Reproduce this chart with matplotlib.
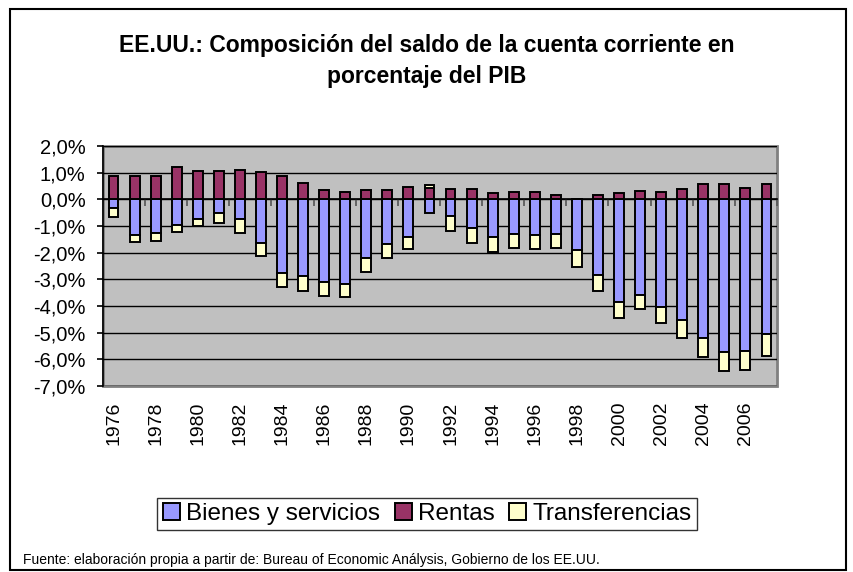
import numpy as np
import matplotlib
matplotlib.use('Agg')
import matplotlib.pyplot as plt
from matplotlib.patches import Patch, Rectangle
from matplotlib.ticker import FuncFormatter

plt.rcParams['font.family'] = ['Liberation Sans', 'DejaVu Sans']

years = list(range(1976, 2008))
bienes = [-0.34, -1.34, -1.28, -0.96, -0.73, -0.53, -0.75, -1.65, -2.75, -2.88,
          -3.09, -3.19, -2.21, -1.68, -1.40, -0.53, -0.63, -1.08, -1.40, -1.30,
          -1.34, -1.30, -1.90, -2.84, -3.85, -3.59, -4.03, -4.53, -5.19, -5.71,
          -5.68, -5.06]
rentas = [0.88, 0.88, 0.88, 1.20, 1.06, 1.06, 1.09, 1.01, 0.88, 0.63,
          0.34, 0.29, 0.36, 0.36, 0.48, 0.41, 0.38, 0.38, 0.23, 0.26,
          0.29, 0.15, 0.02, 0.15, 0.23, 0.30, 0.26, 0.40, 0.59, 0.59,
          0.44, 0.59]
transf = [-0.31, -0.27, -0.27, -0.27, -0.28, -0.36, -0.51, -0.48, -0.53, -0.55,
          -0.54, -0.49, -0.53, -0.52, -0.48, 0.14, -0.55, -0.57, -0.59, -0.54,
          -0.54, -0.54, -0.63, -0.59, -0.61, -0.52, -0.62, -0.66, -0.71, -0.73,
          -0.72, -0.80]
series_names = ['Bienes y servicios', 'Rentas', 'Transferencias']
clr = ['#9999FF', '#993366', '#FFFFCC']

bienes = np.array(bienes)
rentas = np.array(rentas)
transf = np.array(transf)
x = np.arange(len(years))

fig = plt.figure(figsize=(8.54, 5.72), dpi=100)
ax = fig.add_axes([103/854, 1-386/572, 674/854, 240/572])

# frame around the whole chart
fig.patches.append(Rectangle((10/854, 2/572), 836/854, 561/572, transform=fig.transFigure,
                             fill=False, edgecolor='black', linewidth=1.5))

ax.set_facecolor('#C0C0C0')
ax.patch.set_edgecolor('#808080')
ax.patch.set_linewidth(2)
for yv in np.arange(-7, 2.1, 1):
    ax.axhline(yv, color='black', linewidth=1.0, zorder=1)

w = 0.47
ax.bar(x, bienes, w, color=clr[0], edgecolor='black', linewidth=1.4, zorder=3)
ax.bar(x, rentas, w, color=clr[1], edgecolor='black', linewidth=1.4, zorder=3)
bot = np.where(transf < 0, bienes, rentas)
ax.bar(x, transf, w, bottom=bot, color=clr[2], edgecolor='black', linewidth=1.4, zorder=3)

ax.set_xlim(-0.5, len(years) - 0.5)
ax.set_ylim(-7, 2)

ax.spines['top'].set_visible(False)
ax.spines['right'].set_visible(False)
ax.spines['left'].set_color('black')
ax.spines['left'].set_linewidth(1.2)
ax.spines['bottom'].set_position(('data', 0))
ax.spines['bottom'].set_color('black')
ax.spines['bottom'].set_linewidth(1.2)
ax.spines['bottom'].set_zorder(2)

ax.set_yticks(np.arange(-7, 2.1, 1))
ax.yaxis.set_major_formatter(FuncFormatter(lambda v, p: ('%.1f%%' % v).replace('.', ',')))
ax.tick_params(axis='y', length=4.5, width=1.2, pad=8, labelsize=14.5)
ax.set_xticks(np.arange(1.5, len(years), 2))
ax.tick_params(axis='x', length=5, width=1.2, direction='out', labelbottom=False, color='#555555')

sec = ax.secondary_xaxis('bottom')
sec.set_xticks(x[::2], labels=[str(y) for y in years[::2]], rotation=90)
sec.tick_params(length=0, pad=11, labelsize=14)
sec.spines['bottom'].set_visible(False)

fig.text(0.5, 1-52/572, 'EE.UU.: Composición del saldo de la cuenta corriente en',
         ha='center', va='baseline', fontsize=16.5, fontweight='bold')
fig.text(0.5, 1-83/572, 'porcentaje del PIB',
         ha='center', va='baseline', fontsize=16.5, fontweight='bold')

handles = [Patch(facecolor=c, edgecolor='black', linewidth=1.4) for c in clr]
leg = fig.legend(handles, series_names, loc='center', bbox_to_anchor=(0.5, 1-514/572),
                 ncol=3, fontsize=17.5, frameon=True, fancybox=False, edgecolor='black',
                 handlelength=0.7, handleheight=0.7, handletextpad=0.25, columnspacing=0.6,
                 borderpad=0.22, borderaxespad=0)
leg.get_frame().set_linewidth(1.0)

fig.text(23/854, 1-560/572, 'Fuente: elaboración propia a partir de: Bureau of Economic Análysis, Gobierno de los EE.UU.',
         ha='left', va='center', fontsize=10)

fig.savefig('out.png', dpi=100)
